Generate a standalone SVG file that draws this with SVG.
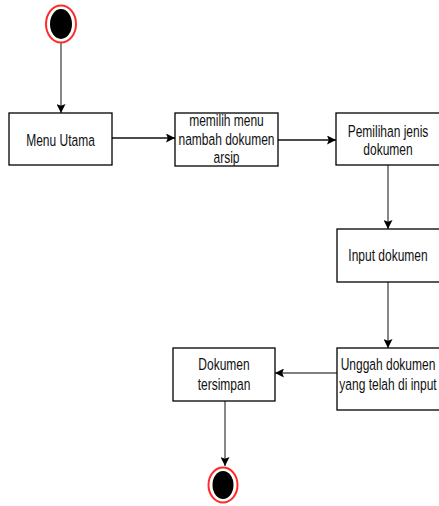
<svg xmlns="http://www.w3.org/2000/svg" width="439" height="506" viewBox="0 0 439 506">
  <style>
    .box { fill: #ffffff; stroke: #000000; stroke-width: 1.3; }
    .lbl { font-family: "Liberation Sans", Arial, sans-serif; font-size: 12px; fill: #111111; text-anchor: middle; }
    .edge { fill: none; stroke: #555555; stroke-width: 1.4; }
    .edge-dark { fill: none; stroke: #111111; stroke-width: 1.5; }
    .ring { fill: #ffffff; stroke: #ff2a2a; stroke-width: 2; }
    .core { fill: #000000; }
  </style>
  <defs>
    <marker id="arrow" viewBox="0 0 10 10" refX="10" refY="5" markerWidth="9" markerHeight="9" markerUnits="userSpaceOnUse" orient="auto">
      <path d="M0,0 L10,5 L0,10 L2,5 Z" fill="#000000"/>
    </marker>
  </defs>

  <rect x="0" y="0" width="439" height="506" fill="#ffffff"/>

  <g id="connectors">
    <line class="edge" x1="61" y1="43" x2="61" y2="113" marker-end="url(#arrow)"/>
    <line class="edge-dark" x1="112" y1="138" x2="175" y2="138" marker-end="url(#arrow)"/>
    <line class="edge-dark" x1="278" y1="140" x2="336" y2="140" stroke-width="2.4" marker-end="url(#arrow)"/>
    <line class="edge" x1="388" y1="165" x2="388" y2="229" marker-end="url(#arrow)"/>
    <line class="edge" x1="388" y1="282" x2="388" y2="348" marker-end="url(#arrow)"/>
    <line class="edge" x1="337" y1="373" x2="275" y2="373" marker-end="url(#arrow)"/>
    <line class="edge" x1="225" y1="401" x2="225" y2="466" marker-end="url(#arrow)"/>
  </g>

  <g id="start">
    <ellipse class="ring" cx="61" cy="24" rx="15" ry="18.5"/>
    <ellipse class="core" cx="61" cy="24" rx="11" ry="15"/>
  </g>

  <!-- labels use tall glyphs: 12px wide metrics stretched 1.4x vertically -->
  <g id="menu-utama">
    <rect class="box" x="9" y="113" width="103" height="52"/>
    <text class="lbl" transform="translate(60.5,145.5) scale(1,1.4)">Menu Utama</text>
  </g>

  <g id="memilih-menu">
    <rect class="box" x="175" y="113" width="103" height="53"/>
    <text class="lbl" transform="translate(226.5,126) scale(1,1.4)">memilih menu</text>
    <text class="lbl" transform="translate(226.5,145) scale(1,1.4)">nambah dokumen</text>
    <text class="lbl" transform="translate(226.5,163) scale(1,1.4)">arsip</text>
  </g>

  <g id="pemilihan-jenis">
    <rect class="box" x="336" y="113" width="104" height="52"/>
    <text class="lbl" transform="translate(388,137) scale(1,1.4)">Pemilihan jenis</text>
    <text class="lbl" transform="translate(388,155) scale(1,1.4)">dokumen</text>
  </g>

  <g id="input-dokumen">
    <rect class="box" x="337" y="229" width="103" height="53"/>
    <text class="lbl" transform="translate(388,261) scale(1,1.4)">Input dokumen</text>
  </g>

  <g id="unggah-dokumen">
    <rect class="box" x="337" y="348" width="103" height="62"/>
    <text class="lbl" transform="translate(388,369.5) scale(1,1.4)">Unggah dokumen</text>
    <text class="lbl" transform="translate(388,390) scale(1,1.4)">yang telah di input</text>
  </g>

  <g id="dokumen-tersimpan">
    <rect class="box" x="173" y="348" width="102" height="53"/>
    <text class="lbl" transform="translate(224,369.5) scale(1,1.4)">Dokumen</text>
    <text class="lbl" transform="translate(224,390) scale(1,1.4)">tersimpan</text>
  </g>

  <g id="end">
    <ellipse class="ring" cx="223" cy="485" rx="14.5" ry="17.5"/>
    <ellipse class="core" cx="223" cy="485" rx="10.5" ry="14"/>
  </g>
</svg>
